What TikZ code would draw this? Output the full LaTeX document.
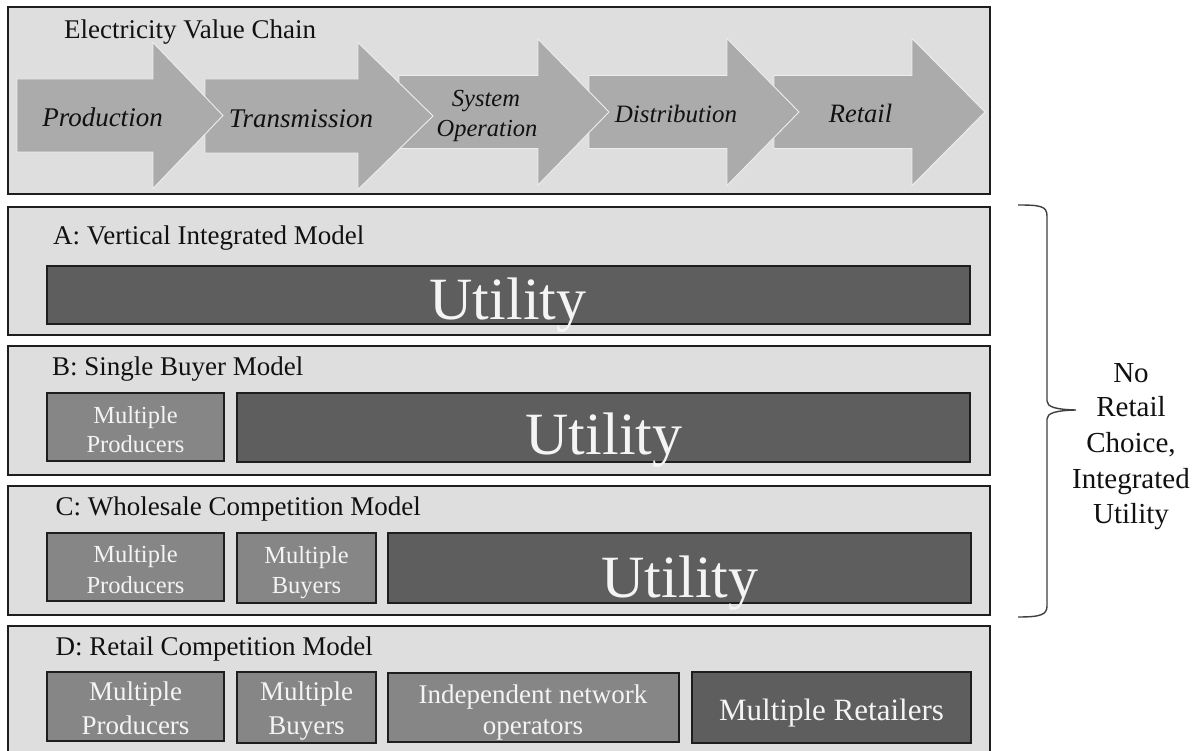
\documentclass[tikz,border=0pt]{standalone}
\usepackage{fontspec}
\setmainfont{Liberation Serif}
\definecolor{panelfill}{HTML}{DEDEDE}
\definecolor{arrowfill}{HTML}{ABABAB}
\definecolor{arrowedge}{HTML}{EEEEEE}
\definecolor{darkbox}{HTML}{5E5E5E}
\definecolor{medbox}{HTML}{868686}
\definecolor{edgecol}{HTML}{1E1E1E}
\definecolor{boxtext}{HTML}{F4F4F4}
\definecolor{inktext}{HTML}{111111}
\newcommand\flowarrow[6]{% left, headbase, tip, centre y, half body, half head
  \fill[arrowfill] (#1,#4-#5) -- (#2,#4-#5) -- (#2,#4-#6) -- (#3,#4) -- (#2,#4+#6) -- (#2,#4+#5) -- (#1,#4+#5) -- cycle;
  \draw[arrowedge, line width=0.9pt, line join=miter] (#1,#4-#5) -- (#2,#4-#5) -- (#2,#4-#6) -- (#3,#4) -- (#2,#4+#6) -- (#2,#4+#5) -- (#1,#4+#5) -- cycle;
}
\begin{document}
\begin{tikzpicture}[x=1pt,y=-1pt,
  boxbase/.style={anchor=north west, inner sep=0pt, outer sep=0pt},
  panel/.style={boxbase, draw=edgecol, line width=2pt, fill=panelfill},
  darkrect/.style={boxbase, draw=edgecol, line width=1.5pt, fill=darkbox},
  medrect/.style={boxbase, draw=edgecol, line width=1.5pt, fill=medbox},
  title/.style={anchor=base west, inner sep=0pt, text=inktext, font=\fontsize{27}{32}\selectfont},
  steplab/.style={anchor=base, inner sep=0pt, text=inktext},
  wlab/.style={anchor=base, inner sep=0pt, text=boxtext},
  utilfont/.style={font=\fontsize{60}{70}\selectfont},
  smallfont/.style={font=\fontsize{24.5}{29}\selectfont},
  midfont/.style={font=\fontsize{27}{32}\selectfont},
  sidelab/.style={anchor=base, inner sep=0pt, text=inktext, font=\fontsize{29}{35}\selectfont},
]
\useasboundingbox (0,0) rectangle (1200,751);
\fill[white] (0,0) rectangle (1200,751);

% ---------- value chain panel ----------
\node[panel, minimum width=982pt, minimum height=187pt] (chain) at (8,7) {};
\node[title] (chaintitle) at (64,39) {Electricity Value Chain};
\flowarrow{774}{912}{985}{112}{36.5}{73.5}
\flowarrow{589}{727}{799}{112}{36.5}{73.5}
\flowarrow{399}{538}{609}{112}{36.5}{73}
\flowarrow{205}{358}{433}{116}{37}{73.5}
\flowarrow{17}{153}{223}{115.5}{36.5}{73}
\node[steplab, font=\fontsize{27}{32}\selectfont\itshape] (prod) at (102.5,127) {Production};
\node[steplab, font=\fontsize{27}{32}\selectfont\itshape] (trans) at (301,128) {Transmission};
\node[steplab, font=\fontsize{24.5}{30}\selectfont\itshape] (sys1) at (486,107) {System};
\node[steplab, font=\fontsize{24.5}{30}\selectfont\itshape] (sys2) at (487,137) {Operation};
\node[steplab, font=\fontsize{25}{30}\selectfont\itshape] (dist) at (676,123) {Distribution};
\node[steplab, font=\fontsize{26.5}{30}\selectfont\itshape] (ret) at (860.5,123) {Retail};

% ---------- A ----------
\node[panel, minimum width=982pt, minimum height=128pt] (pa) at (8,207) {};
\node[title] (ta) at (53,245) {A: Vertical Integrated Model};
\node[darkrect, minimum width=923pt, minimum height=58pt] (ua) at (47,266) {};
\node[wlab, utilfont] (uat) at (508,320) {Utility};

% ---------- B ----------
\node[panel, minimum width=982pt, minimum height=129pt] (pb) at (8,346) {};
\node[title] (tb) at (52,375) {B: Single Buyer Model};
\node[medrect, minimum width=177pt, minimum height=68pt] (bp) at (47,393) {};
\node[wlab, smallfont] (bp1) at (135.5,423) {Multiple};
\node[wlab, smallfont] (bp2) at (135.5,452) {Producers};
\node[darkrect, minimum width=733pt, minimum height=69pt] (ub) at (237,393) {};
\node[wlab, utilfont] (ubt) at (604,454) {Utility};

% ---------- C ----------
\node[panel, minimum width=982pt, minimum height=129pt] (pc) at (8,486) {};
\node[title] (tc) at (55.5,515) {C: Wholesale Competition Model};
\node[medrect, minimum width=177pt, minimum height=68pt] (cp) at (47,533) {};
\node[wlab, smallfont] (cp1) at (135.5,562) {Multiple};
\node[wlab, smallfont] (cp2) at (135.5,593) {Producers};
\node[medrect, minimum width=139pt, minimum height=70pt] (cb) at (237,533) {};
\node[wlab, smallfont] (cb1) at (306.5,563) {Multiple};
\node[wlab, smallfont] (cb2) at (306.5,593) {Buyers};
\node[darkrect, minimum width=583pt, minimum height=70pt] (uc) at (388,533) {};
\node[wlab, utilfont] (uct) at (680,597) {Utility};

% ---------- D ----------
\node[panel, minimum width=982pt, minimum height=140pt] (pd) at (8,626) {};
\node[title] (td) at (55.5,655) {D: Retail Competition Model};
\node[medrect, minimum width=177pt, minimum height=69pt] (dp) at (47,672) {};
\node[wlab, midfont] (dp1) at (135.5,700) {Multiple};
\node[wlab, midfont] (dp2) at (135.5,734) {Producers};
\node[medrect, minimum width=139pt, minimum height=71pt] (db) at (237,672) {};
\node[wlab, midfont] (db1) at (306.5,700) {Multiple};
\node[wlab, midfont] (db2) at (306.5,734) {Buyers};
\node[medrect, minimum width=291pt, minimum height=69pt] (dn) at (388,673) {};
\node[wlab, midfont] (dn1) at (533,703) {Independent network};
\node[wlab, midfont] (dn2) at (533,734) {operators};
\node[darkrect, minimum width=279pt, minimum height=71pt] (dr) at (692,672) {};
\node[wlab, font=\fontsize{31}{36}\selectfont] (drt) at (831.5,720) {Multiple Retailers};

% ---------- brace ----------
\coordinate (bracetop) at (1018,205);
\coordinate (bracebot) at (1018,617);
\coordinate (bracetip) at (1076,410);
\draw[edgecol!85!white, line width=1.4pt]
  (bracetop) .. controls (1040,205) and (1047,206) .. (1047,216)
  -- (1047,401) .. controls (1047,407) and (1056,409.5) .. (bracetip)
  .. controls (1056,410.5) and (1047,413) .. (1047,419)
  -- (1047,606) .. controls (1047,615) and (1040,617) .. (bracebot);
\node[sidelab] (s1) at (1131,382) {No};
\node[sidelab] (s2) at (1131,417) {Retail};
\node[sidelab] (s3) at (1131,452) {Choice,};
\node[sidelab] (s4) at (1131,488) {Integrated};
\node[sidelab] (s5) at (1131,523) {Utility};
\end{tikzpicture}
\end{document}
